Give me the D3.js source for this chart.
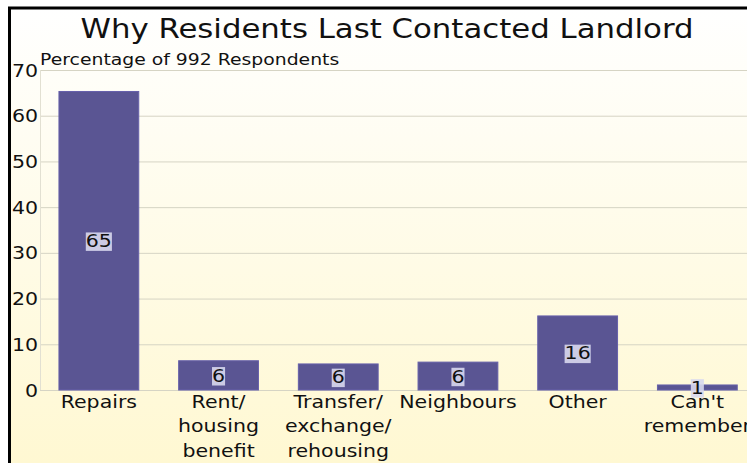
<!DOCTYPE html>
<html><head><meta charset="utf-8">
<script src="https://cdn.jsdelivr.net/npm/d3@7"></script>
<style>body{margin:0;background:#fff}svg{display:block}text{font-family:"DejaVu Sans",sans-serif}</style>
</head><body>
<svg id="c" width="747" height="463"></svg>
<script>
const categories = [["Repairs"],["Rent/","housing","benefit"],["Transfer/","exchange/","rehousing"],["Neighbours"],["Other"],["Can't","remember"]];
const values = [65.3, 6.4, 5.7, 6.1, 16.2, 1.1];
const yTicks = [0,10,20,30,40,50,60,70];
const title = "Why Residents Last Contacted Landlord";
const subtitle = "Percentage of 992 Respondents";

const SX = 1.14; // horizontal stretch of text seen in the reference
const svg = d3.select("#c");
const defs = svg.append("defs");
const g1 = defs.append("linearGradient").attr("id","bg").attr("x1",0).attr("y1",0).attr("x2",0).attr("y2",1);
g1.append("stop").attr("offset","0%").attr("stop-color","#ffffff");
g1.append("stop").attr("offset","100%").attr("stop-color","#fff8d2");
svg.append("rect").attr("x",9).attr("y",8).attr("width",738).attr("height",455).attr("fill","url(#bg)");
svg.append("line").attr("x1",9.5).attr("x2",9.5).attr("y1",7).attr("y2",463).attr("stroke","#000").attr("stroke-width",3);
svg.append("line").attr("x1",8).attr("x2",747).attr("y1",8).attr("y2",8).attr("stroke","#000").attr("stroke-width",3);

const left = 40, x0 = 39, step = 119.7;
const x = d3.scaleBand().domain(d3.range(values.length)).range([x0, x0 + step*values.length]).paddingInner(1/3).paddingOuter(1/6);
const y = d3.scaleLinear().domain([0,70]).range([390,70]);

// grid
svg.append("g").selectAll("line").data(yTicks).join("line")
  .attr("x1",left).attr("x2",747).attr("y1",d=>y(d)+0.5).attr("y2",d=>y(d)+0.5)
  .attr("stroke","#d6d4c4").attr("stroke-width",1);
svg.append("line").attr("x1",left+0.5).attr("x2",left+0.5).attr("y1",70).attr("y2",390).attr("stroke","#e2e0d2");

// y tick labels
svg.append("g").selectAll("text").data(yTicks).join("text")
  .attr("transform",d=>`translate(38,${y(d)+6.5}) scale(${SX},1)`).attr("text-anchor","end")
  .attr("font-size",18).attr("fill","#111").text(d=>d);

// bars
svg.append("g").selectAll("rect").data(values).join("rect")
  .attr("x",(d,i)=>x(i)).attr("width",x.bandwidth())
  .attr("y",d=>y(d)).attr("height",d=>y(0)-y(d))
  .attr("fill","#5a5593").attr("stroke","#6660aa").attr("stroke-width",1);

// value labels
const vl = svg.append("g").selectAll("g").data(values).join("g")
  .attr("transform",(d,i)=>`translate(${x(i)+x.bandwidth()/2},${(y(d)+y(0))/2}) scale(${SX},1)`);
vl.append("text").attr("text-anchor","middle").attr("dy","0.36em")
  .attr("font-size",18).attr("fill","#111").text(d=>Math.round(d))
  .each(function(){
    const b=this.getBBox();
    d3.select(this.parentNode).insert("rect","text")
      .attr("x",b.x).attr("y",b.y+2).attr("width",b.width).attr("height",b.height-3)
      .attr("fill","#d8d8ee").attr("opacity",0.9);
  });

// x labels
const xl = svg.append("g").selectAll("text").data(categories).join("text")
  .attr("text-anchor","middle").attr("font-size",18).attr("fill","#111")
  .attr("transform",(d,i)=>`translate(${x(i)+x.bandwidth()/2},0) scale(${SX},1)`);
xl.selectAll("tspan").data(d=>d).join("tspan").attr("x",0).attr("y",(d,j)=>408+j*24.5).text(d=>d);

svg.append("text").attr("transform",`translate(387,38) scale(${SX},1)`).attr("text-anchor","middle").attr("font-size",27).attr("fill","#111").text(title);
svg.append("text").attr("transform",`translate(40,65) scale(${SX},1)`).attr("font-size",16.5).attr("fill","#111").text(subtitle);
</script>
</body></html>
